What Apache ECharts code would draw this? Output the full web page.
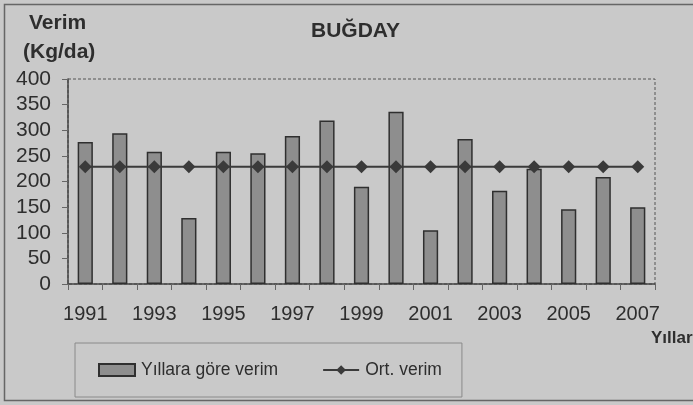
<!DOCTYPE html>
<html>
<head>
<meta charset="utf-8">
<script src="https://cdn.jsdelivr.net/npm/echarts@6/dist/echarts.min.js"></script>
<style>
html,body{margin:0;padding:0;background:#c9c9c9;}
#c{width:693px;height:405px;}
</style>
</head>
<body>
<div id="c"></div>
<script>
const years = ['1991','1992','1993','1994','1995','1996','1997','1998','1999','2000','2001','2002','2003','2004','2005','2006','2007'];
const yieldValues = [277, 294, 258, 129, 258, 255, 289, 319, 190, 336, 105, 283, 182, 225, 146, 209, 150];
const avgValues = [229, 229, 229, 229, 229, 229, 229, 229, 229, 229, 229, 229, 229, 229, 229, 229, 229];
const yTicks = {min: 0, max: 400, interval: 50};
const seriesNames = ['Yıllara göre verim', 'Ort. verim'];

const FONT = '"Liberation Sans", Arial, sans-serif';
const TXT = '#2e2e2e';
const chart = echarts.init(document.getElementById('c'), null, {renderer: 'canvas'});
chart.setOption({
  backgroundColor: '#c9c9c9',
  animation: false,
  textStyle: {fontFamily: FONT},
  title: {
    text: 'BUĞDAY', left: 306, top: 16,
    textStyle: {fontFamily: FONT, fontSize: 21, fontWeight: 'bold', color: TXT}
  },
  grid: {
    left: 68, top: 79, right: 38, bottom: 121,
    outerBoundsMode: 'none',
    show: true, backgroundColor: 'transparent',
    borderColor: '#555', borderWidth: 1, borderType: [3, 2]
  },
  legend: {
    left: 75, top: 343,
    padding: [18, 20, 18, 23],
    itemWidth: 36, itemHeight: 12, itemGap: 44,
    backgroundColor: 'transparent',
    borderColor: '#8a8a8a', borderWidth: 1,
    textStyle: {fontFamily: FONT, fontSize: 17.5, color: TXT, padding: [0, 0, 0, 1]},
    data: [
      {name: seriesNames[0], icon: 'rect'},
      {name: seriesNames[1]}
    ]
  },
  xAxis: {
    type: 'category', data: years, boundaryGap: true,
    axisLine: {lineStyle: {color: '#444', width: 1.5}},
    axisTick: {show: true, length: 6, interval: 0, alignWithLabel: false, lineStyle: {color: '#666'}},
    axisLabel: {interval: 1, margin: 20, fontFamily: FONT, fontSize: 20, color: TXT}
  },
  yAxis: {
    type: 'value', min: yTicks.min, max: yTicks.max, interval: yTicks.interval,
    splitLine: {show: false},
    axisLine: {show: true, lineStyle: {color: '#444', width: 1.5}},
    axisTick: {show: true, length: 6, lineStyle: {color: '#666'}},
    axisLabel: {margin: 17, fontFamily: FONT, fontSize: 21, color: TXT}
  },
  graphic: [
    {type: 'rect', shape: {x: 4.5, y: 4.5, width: 700, height: 396}, style: {fill: 'none', stroke: '#666', lineWidth: 1.5}, silent: true},
    {type: 'text', left: 29, top: 13, style: {text: 'Verim', font: 'bold 21px ' + FONT, fill: TXT}},
    {type: 'text', left: 23, top: 42, style: {text: '(Kg/da)', font: 'bold 21px ' + FONT, fill: TXT}},
    {type: 'text', left: 651, top: 330, style: {text: 'Yıllar', font: 'bold 17px ' + FONT, fill: TXT}}
  ],
  series: [
    {
      name: seriesNames[0], type: 'bar', data: yieldValues,
      barWidth: '44%',
      itemStyle: {color: '#8e8e8e', borderColor: '#2f2f2f', borderWidth: 1.5}
    },
    {
      name: seriesNames[1], type: 'line', data: avgValues,
      symbol: 'diamond', symbolSize: 13,
      lineStyle: {color: '#3a3a3a', width: 2},
      itemStyle: {color: '#3a3a3a'}
    }
  ]
});
</script>
</body>
</html>
